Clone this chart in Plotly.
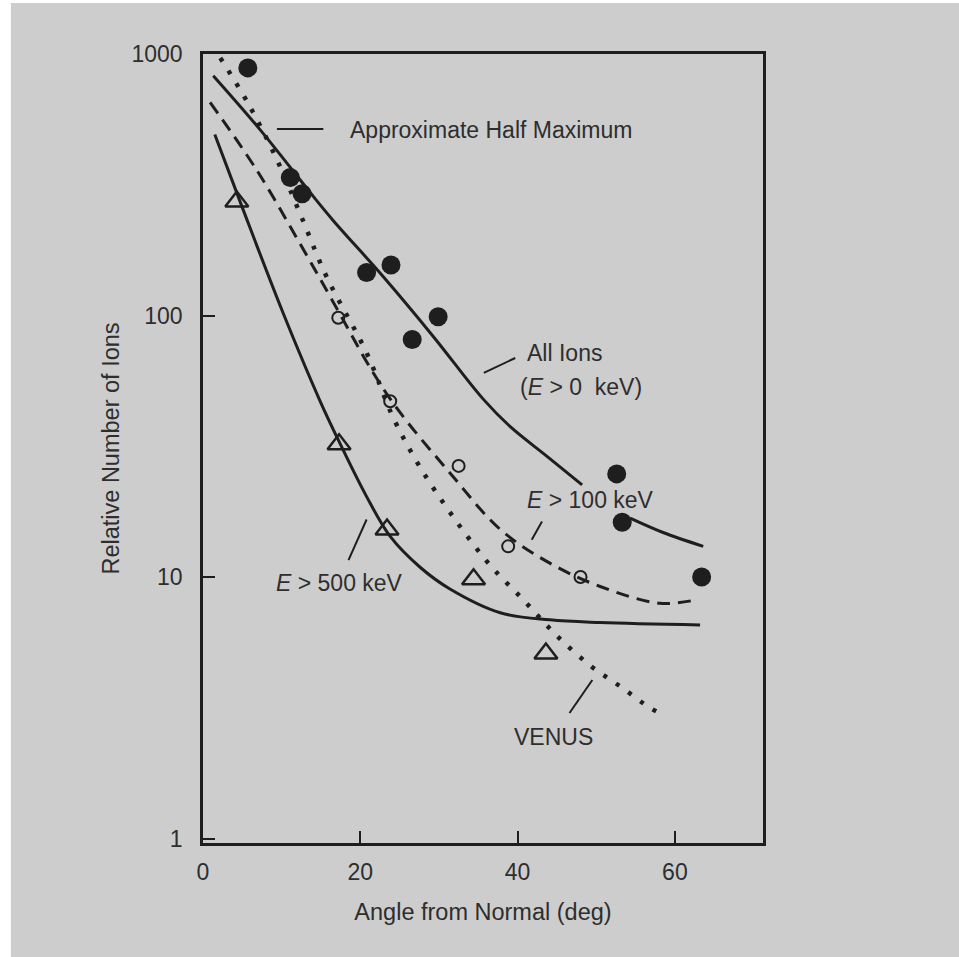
import numpy as np
import plotly.graph_objects as go

# ---------------- data ----------------
all_ions_x = [5.7, 11.1, 12.6, 20.8, 23.9, 26.6, 29.9, 52.6, 53.3, 63.4]
all_ions_y = [885, 337, 292, 146, 156, 81, 99, 24.8, 16.2, 10.0]

e100_x = [17.2, 23.8, 32.5, 38.8, 48.0]
e100_y = [98, 47, 26.6, 13.1, 10.0]

e500_x = [4.3, 17.3, 23.4, 34.4, 43.6]
e500_y = [273, 32.2, 15.2, 9.8, 5.1]

all_fit_x = [1.3, 7.25, 14.0, 16.6, 22.9, 29.3, 35.6, 39.1, 43.7, 48.2, None, 54.3, 58.5, 63.6]
all_fit_y = [826, 514, 286, 230, 141, 83, 48, 37.5, 29, 22.5, None, 16.8, 14.8, 13.1]

e100_fit_x = [0.9, 6.8, 12.3, 16.6, 21.7, 25.1, 31.4, 37.8, 44.1, 50.5, 58.1, 62.7]
e100_fit_y = [653, 361, 189, 112, 60, 42.4, 25, 15.2, 11.3, 9.2, 7.94, 8.18]

e500_fit_x = [1.5, 5.1, 10.2, 14.9, 17.4, 20.8, 23.8, 27.6, 31.4, 37.8, 44.1, 50.5, 63.2]
e500_fit_y = [492, 254, 102, 47, 32.5, 20.3, 14.3, 10.9, 9.0, 7.3, 6.86, 6.7, 6.56]

venus_x = [2.2, 5.7, 9.2, 12.4, 15.7, 20.8, 24.2, 27.6, 31.8, 36.5, 40.7, 44.9, 49.3, 53.2, 56.7, 58.5]
venus_y = [966, 650, 406, 243, 141, 72, 40.6, 26.3, 17.0, 11.1, 8.2, 6.0, 4.57, 3.79, 3.18, 2.97]

x_ticks = [0, 20, 40, 60]
y_ticks = [1, 10, 100, 1000]
y_tick_text = ["1", "10", "100", "1000"]

# leader lines for the labels: ([x0, x1], [y0, y1])
leaders = {
    "half": ([9.4, 15.3], [517, 517]),
    "all": ([35.7, 39.7], [60.3, 68.8]),
    "e100": ([41.8, 43.1], [13.9, 16.3]),
    "e500": ([18.5, 20.8], [11.6, 16.6]),
    "venus": ([46.6, 49.5], [3.02, 4.04]),
}

INK = "#1e1e1e"
TXT = "#2e2e2e"
BG = "#cdcdcd"
FONT = "Liberation Sans, Arial, sans-serif"

fig = go.Figure()

# fitted curves
fig.add_trace(go.Scatter(x=venus_x, y=venus_y, mode="lines", line=dict(color=INK, width=4.5, dash="4px,11px", shape="spline"), hoverinfo="skip"))
fig.add_trace(go.Scatter(x=all_fit_x, y=all_fit_y, mode="lines", line=dict(color=INK, width=3, shape="spline"), hoverinfo="skip"))
fig.add_trace(go.Scatter(x=e100_fit_x, y=e100_fit_y, mode="lines", line=dict(color=INK, width=3, dash="13px,8px", shape="spline"), hoverinfo="skip"))
fig.add_trace(go.Scatter(x=e500_fit_x, y=e500_fit_y, mode="lines", line=dict(color=INK, width=3, shape="spline"), hoverinfo="skip"))

# leaders
for lx, ly in leaders.values():
    fig.add_trace(go.Scatter(x=lx, y=ly, mode="lines", line=dict(color=INK, width=2), hoverinfo="skip"))

# data points
fig.add_trace(go.Scatter(x=all_ions_x, y=all_ions_y, mode="markers",
                         marker=dict(symbol="circle", size=19, color=INK)))
fig.add_trace(go.Scatter(x=e100_x, y=e100_y, mode="markers",
                         marker=dict(symbol="circle-open", size=12, color=INK, line=dict(width=2, color=INK))))
fig.add_trace(go.Scatter(x=e500_x, y=e500_y, mode="markers",
                         marker=dict(symbol="triangle-up-open", size=20, color=INK, line=dict(width=2.5, color=INK))))

def ann(text, x, y, xanchor="left"):
    fig.add_annotation(text=text, x=x, y=np.log10(y), xref="x", yref="y", showarrow=False,
                       xanchor=xanchor, yanchor="middle", font=dict(size=23, color=TXT, family=FONT))

ann("Approximate Half Maximum", 18.4, 514)
ann("All Ions", 40.9, 72)
ann("(<i>E</i> > 0  keV)", 40.0, 53.5)
ann("<i>E</i> > 100 keV", 41.0, 19.7)
ann("<i>E</i> > 500 keV", 9.0, 9.5)
ann("VENUS", 44.6, 2.45, xanchor="center")

axis_common = dict(showline=True, linecolor=INK, linewidth=2.5, mirror=True,
                   ticks="inside", ticklen=12, tickwidth=2, tickcolor=INK,
                   showgrid=False, zeroline=False,
                   tickfont=dict(size=23, color=TXT, family=FONT))

fig.update_xaxes(range=[0, 71.2], tickvals=x_ticks,
                 title=dict(text="Angle from Normal (deg)", font=dict(size=23.5, color=TXT, family=FONT), standoff=20),
                 ticklabelstandoff=7, **axis_common)
fig.update_yaxes(type="log", range=[-0.017, 3.0], tickvals=y_ticks, ticktext=y_tick_text,
                 title=dict(text="Relative Number of Ions", font=dict(size=23.5, color=TXT, family=FONT), standoff=6),
                 ticklabelstandoff=13, **axis_common)

# thin white scan border at the left and top edges of the page
fig.add_shape(type="rect", xref="paper", yref="paper", x0=-0.37, x1=-0.343, y0=-0.2, y1=1.2,
              fillcolor="white", line=dict(width=0), layer="above")
fig.add_shape(type="rect", xref="paper", yref="paper", x0=-0.37, x1=1.4, y0=1.0646, y1=1.1,
              fillcolor="white", line=dict(width=0), layer="above")

fig.update_layout(
    width=959, height=957,
    margin=dict(l=203, r=196, t=54, b=114),
    paper_bgcolor=BG, plot_bgcolor=BG,
    showlegend=False,
    font=dict(family=FONT, color=TXT),
)

fig.write_html("out.html")
